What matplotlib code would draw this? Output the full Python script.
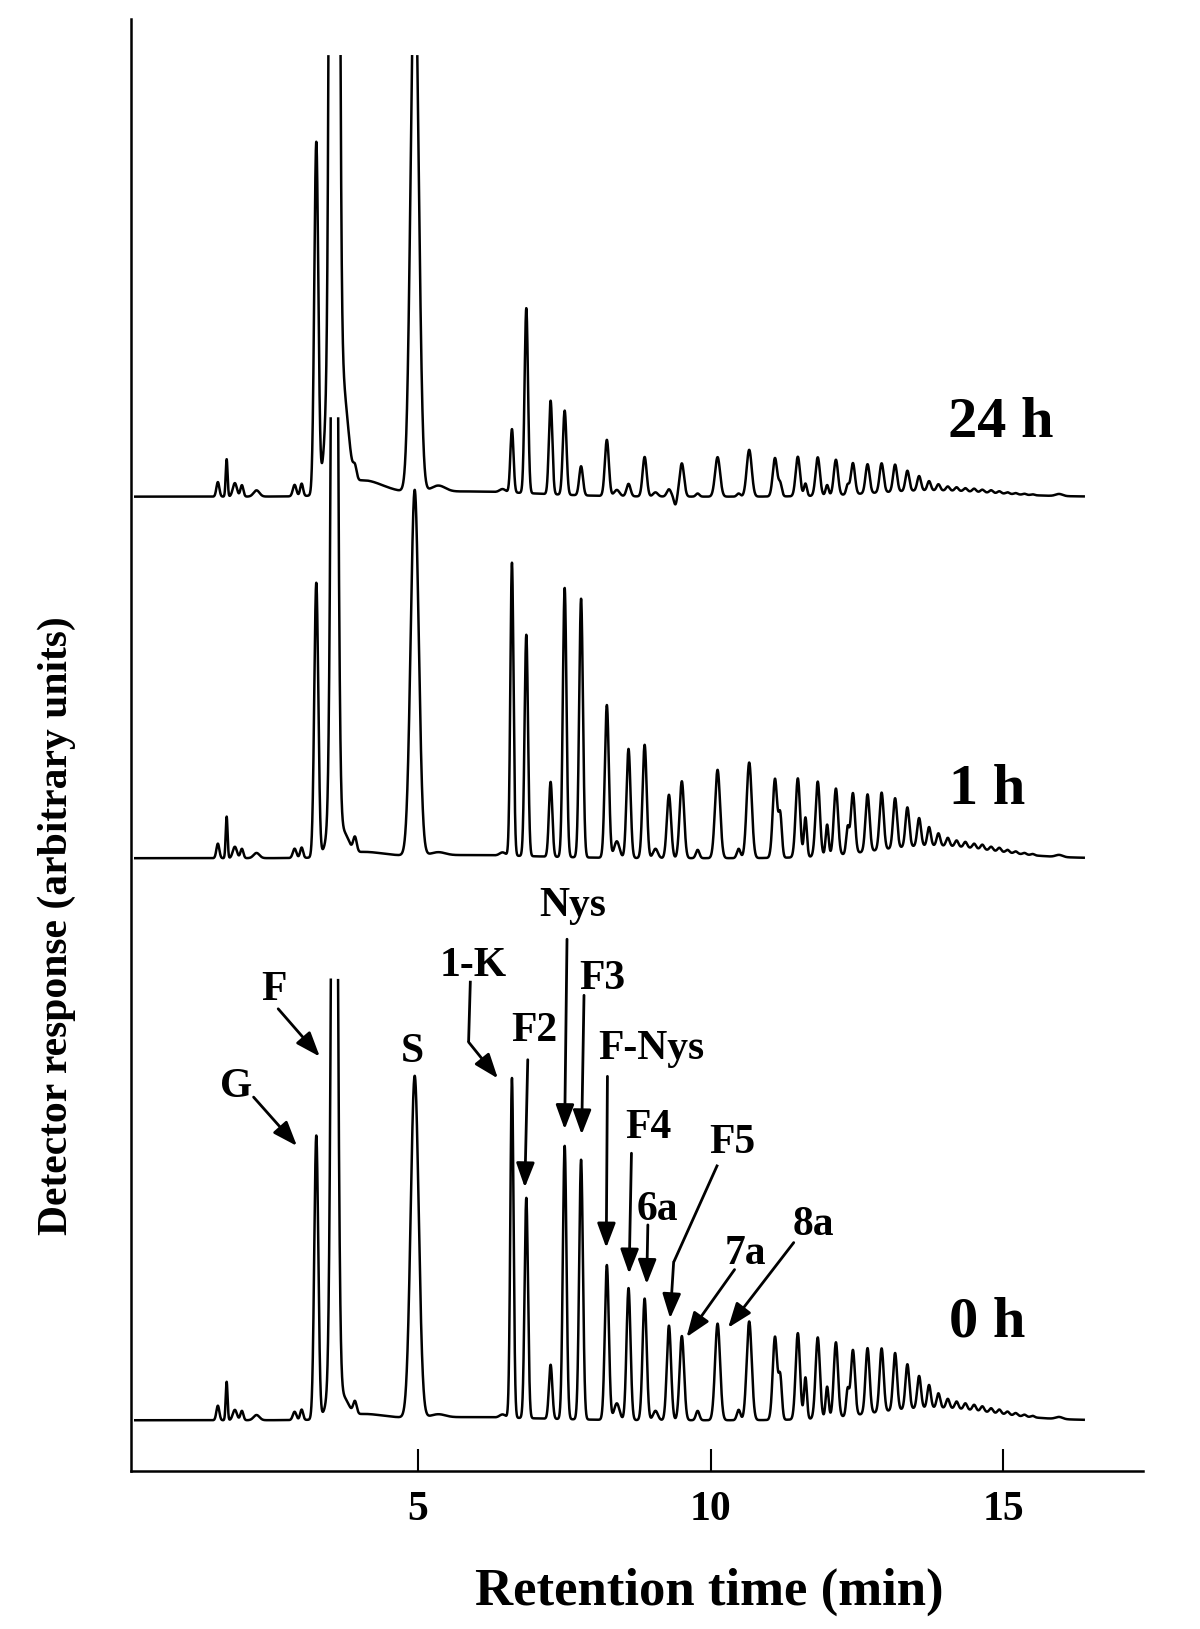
import numpy as np
import matplotlib.pyplot as plt

plt.rcParams['font.family'] = ['Liberation Serif', 'DejaVu Serif']
plt.rcParams['font.weight'] = 'bold'
plt.rcParams['axes.labelweight'] = 'bold'

# peak table
# retention time (min) and peak width (sigma, min), shared by all runs
PEAK_RT = [1.59, 1.74, 1.88, 2.00, 2.25, 2.90, 3.02, 3.27, 3.58, 3.58, 3.78, 3.93,
           4.05, 4.95, 5.35, 5.80, 6.45, 6.61, 6.855, 7.27, 7.51, 7.79, 8.23, 8.40,
           8.60, 8.875, 9.06, 9.29, 9.40, 9.51, 9.78, 10.12, 10.48, 10.66, 11.10, 11.19,
           11.49, 11.62, 11.83, 11.99, 12.14, 12.34, 12.43, 12.68, 12.92, 13.15, 13.36,
           13.56, 13.73, 13.89, 14.05, 14.20, 14.35, 14.50, 14.64, 14.79, 14.93, 15.07,
           15.21, 15.36, 15.50, 13.80, 15.95]
PEAK_WIDTH = [0.025, 0.016, 0.035, 0.025, 0.05, 0.03, 0.025, 0.034, 0.045, 0.10, 0.07, 0.03,
              0.35, 0.068, 0.12, 1.2, 0.05, 0.027, 0.029, 0.029, 0.031, 0.032, 0.034, 0.045,
              0.034, 0.035, 0.04, 0.036, 0.025, 0.038, 0.03, 0.043, 0.03, 0.043, 0.038, 0.028,
              0.037, 0.025, 0.037, 0.025, 0.036, 0.025, 0.035, 0.035, 0.035, 0.034, 0.033,
              0.032, 0.03, 0.03, 0.03, 0.03, 0.03, 0.03, 0.03, 0.03, 0.03, 0.03,
              0.03, 0.03, 0.03, 1.0, 0.06]

# peak heights (arbitrary units) per sampling time
HEIGHT_0H = [14, 37, 10, 9, 5, 8, 10, 273, 1000, 40, 10, 12,
             5, 329, 3, 3, 3, 327, 212, 52, 263, 250, 149, 16,
             127, 117, 9, 91, 0, 81, 9, 93, 10, 95, 80, 40,
             83, 40, 78, 30, 72, 25, 63, 63, 61, 55, 43,
             31, 22, 14, 9, 7, 6, 5.5, 5, 4.2, 4, 3,
             2.5, 1.8, 1.4, 12, 2]
HEIGHT_1H = [14, 40, 11, 9, 5, 9, 10, 264, 1050, 45, 12, 14,
             5, 352, 3, 3, 3, 282, 213, 72, 259, 249, 147, 16,
             105, 109, 9, 61, 0, 74, 8, 85, 9, 92, 76, 40,
             76, 38, 72, 30, 64, 25, 58, 55, 55, 48, 38,
             27, 18, 12, 8, 6, 5.4, 4.6, 4.6, 3.7, 3.7, 2.7,
             2.1, 1.5, 1.2, 12, 2]
HEIGHT_24H = [14, 36, 13, 11, 6, 11, 12, 338, 4000, 230, 45, 12,
              14, 520, 6, 5, 3, 61, 178, 90, 81, 28, 54, 6,
              12, 38, 4, 7, -8, 32, 3, 38, 3, 45, 37, 12,
              38, 12, 37, 10, 34, 9, 30, 28, 28, 26, 19.5,
              14, 9, 6, 4, 3.5, 3, 3, 2.5, 2.5, 2, 1.5,
              1.2, 1, 0.8, 6, 2]

RUN_LABELS = ["0 h", "1 h", "24 h"]
RUN_HEIGHTS = [HEIGHT_0H, HEIGHT_1H, HEIGHT_24H]
RUN_OFFSETS = [49, 590, 938]
CLIP_LEVEL = 424  # traces are cut off at this height above their baseline
TIME_START, TIME_END = 0.18, 16.37


def build_trace(time, heights):
    signal = np.zeros_like(time)
    for rt, w, h in zip(PEAK_RT, PEAK_WIDTH, heights):
        signal += h * np.exp(-0.5 * ((time - rt) / w) ** 2)
    signal[signal > CLIP_LEVEL] = np.nan
    return signal


fig = plt.figure(figsize=(12, 16.29), dpi=100)
ax = fig.add_axes([0.1091, 0.0969, 0.8433, 0.8916])

time = np.linspace(TIME_START, TIME_END, 200000)
for label, heights, offset in zip(RUN_LABELS, RUN_HEIGHTS, RUN_OFFSETS):
    ax.plot(time, offset + build_trace(time, heights), color='black', lw=1.8)

ax.set_xlim(0.106, 17.38)
ax.set_ylim(0, 1398)

# run labels
ax.text(14.72, 143, "0 h", fontsize=42, ha='center', va='center')
ax.text(14.72, 656, "1 h", fontsize=42, ha='center', va='center')
ax.text(14.95, 1009, "24 h", fontsize=42, ha='center', va='center')

# peak labels
peak_labels = [("G", 1.90, 370), ("F", 2.54, 463), ("S", 4.91, 403), ("1-K", 5.94, 486),
               ("F2", 6.99, 424), ("Nys", 7.64, 544), ("F3", 8.16, 474), ("F-Nys", 8.99, 406),
               ("F4", 8.94, 330), ("6a", 9.10, 251), ("F5", 10.37, 316), ("7a", 10.59, 209),
               ("8a", 11.76, 237)]
for text, x, y in peak_labels:
    ax.text(x, y, text, fontsize=30, ha='center', va='center')

arrow_style = dict(arrowstyle="-|>,head_length=0.75,head_width=0.28", lw=2, color='black',
                   shrinkA=0, shrinkB=0, mutation_scale=20)
arrows = [((2.20, 360), (2.94, 313)), ((2.62, 445), (3.33, 399)), ((5.87, 413), (6.37, 378)),
          ((6.88, 396), (6.83, 273)), ((7.55, 512), (7.51, 329)), ((7.84, 458), (7.80, 324)),
          ((8.24, 380), (8.22, 215)), ((8.65, 306), (8.61, 190)), ((8.93, 237), (8.91, 180)),
          ((9.37, 201), (9.31, 147)), ((10.41, 194), (9.59, 129)), ((11.42, 220), (10.30, 138))]
for start, tip in arrows:
    ax.annotate("", xy=tip, xytext=start, arrowprops=arrow_style)
# bent arrow tails for 1-K and F5
ax.plot([5.90, 5.87], [472, 413], color='black', lw=2, solid_capstyle='butt')
ax.plot([10.12, 9.37], [295, 201], color='black', lw=2, solid_capstyle='butt')

for side in ['top', 'right']:
    ax.spines[side].set_visible(False)
for side in ['left', 'bottom']:
    ax.spines[side].set_linewidth(1.8)
ax.set_yticks([])
ax.set_xticks([5, 10, 15])
ax.tick_params(axis='x', direction='in', length=16, width=1.5, pad=14, labelsize=30)
ax.set_xlabel("Retention time (min)", fontsize=38, labelpad=28, x=0.572)
fig.text(0.047, 0.432, "Detector response (arbitrary units)", rotation=90,
         fontsize=30, ha='center', va='center')

fig.savefig("out.png", dpi=100)
